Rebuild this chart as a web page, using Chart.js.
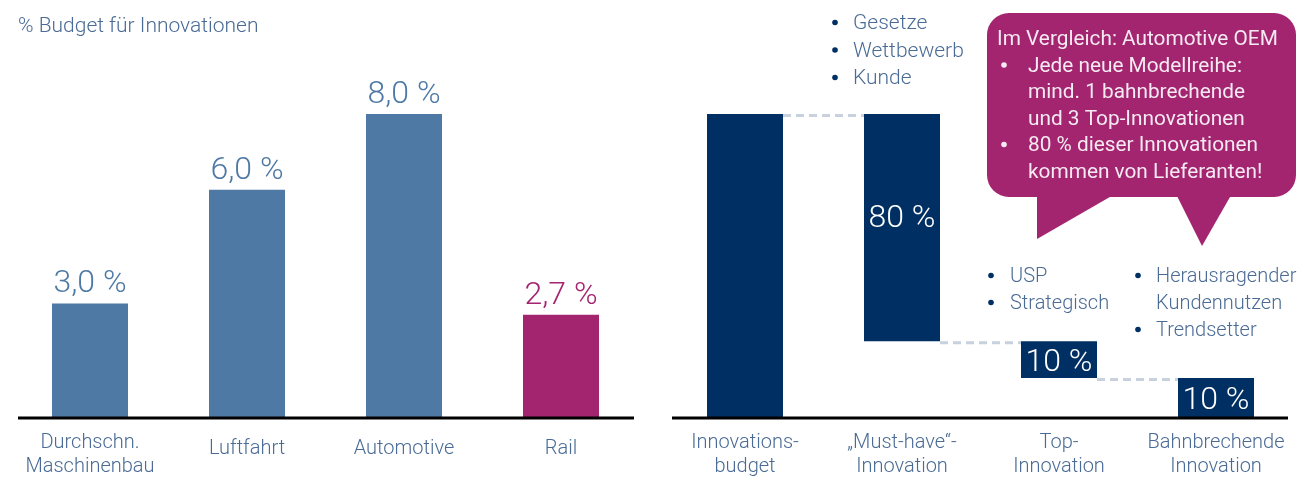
<!DOCTYPE html>
<html>
<head>
<meta charset="utf-8">
<script src="https://cdn.jsdelivr.net/npm/chart.js@4/dist/chart.umd.min.js"></script>
<style>
  html, body { margin: 0; padding: 0; background: #ffffff; }
  #wrap { position: relative; width: 1300px; height: 477px; overflow: hidden; }
  canvas { position: absolute; top: 0; }
  #c1 { left: 0; }
  #c2 { left: 650px; }
</style>
</head>
<body>
<div id="wrap">
  <canvas id="c1" width="650" height="477"></canvas>
  <canvas id="c2" width="650" height="477"></canvas>
</div>
<script>
// ---------- DATA ----------
const leftTitle = "% Budget für Innovationen";
const leftCategories = [["Durchschn.", "Maschinenbau"], ["Luftfahrt"], ["Automotive"], ["Rail"]];
const leftValues = [3.0, 6.0, 8.0, 2.7];
const leftValueLabels = ["3,0 %", "6,0 %", "8,0 %", "2,7 %"];

const rightCategories = [["Innovations-", "budget"], ["„Must-have“-", "Innovation"], ["Top-", "Innovation"], ["Bahnbrechende", "Innovation"]];
const rightStarts = [0, 25, 12.9, 0];
const rightEnds = [100, 100, 25, 12.9];
const rightValueLabels = ["", "80 %", "10 %", "10 %"];

const bulletsMustHave = ["Gesetze", "Wettbewerb", "Kunde"];
const bulletsTop = ["USP", "Strategisch"];
const bulletsBahn = [["Herausragender", "Kundennutzen"], ["Trendsetter"]];
const calloutTitle = "Im Vergleich: Automotive OEM";
const calloutBullets = [["Jede neue Modellreihe:", "mind. 1 bahnbrechende", "und 3 Top-Innovationen"], ["80 % dieser Innovationen", "kommen von Lieferanten!"]];

// ---------- STYLE ----------
const FONT = "Roboto, 'Liberation Sans', sans-serif";
const TEXT = "#4A6B95";
const STEEL = "#4E79A5";
const MAGENTA = "#A3246F";
const NAVY = "#002F63";
const DASH = "#C8D1DE";

function font(size, weight) { return (weight || 300) + " " + size + "px " + FONT; }

function drawAxisLine(ctx, x1, x2, y) {
  ctx.save();
  ctx.strokeStyle = "#000000";
  ctx.lineWidth = 3;
  ctx.beginPath();
  ctx.moveTo(x1, y);
  ctx.lineTo(x2, y);
  ctx.stroke();
  ctx.restore();
}

function drawCatLabels(ctx, chart, cats, color) {
  const xs = chart.scales.x;
  ctx.save();
  ctx.font = font(20);
  ctx.fillStyle = color;
  ctx.textAlign = "center";
  ctx.textBaseline = "alphabetic";
  cats.forEach((lines, i) => {
    const x = xs.getPixelForValue(i);
    if (lines.length === 1) {
      ctx.fillText(lines[0], x, 454);
    } else {
      ctx.fillText(lines[0], x, 448);
      ctx.fillText(lines[1], x, 472);
    }
  });
  ctx.restore();
}

// ---------- LEFT CHART ----------
const leftPlugin = {
  id: "leftDecor",
  afterDatasetsDraw(chart) {
    const ctx = chart.ctx;
    const meta = chart.getDatasetMeta(0);
    drawAxisLine(ctx, 18, 634, chart.chartArea.bottom + 1);
    ctx.save();
    ctx.font = font(32);
    ctx.textAlign = "center";
    ctx.textBaseline = "alphabetic";
    meta.data.forEach((bar, i) => {
      ctx.fillStyle = i === 3 ? MAGENTA : STEEL;
      ctx.fillText(leftValueLabels[i], bar.x, bar.y - 11);
    });
    ctx.font = font(21);
    ctx.fillStyle = TEXT;
    ctx.textAlign = "left";
    ctx.fillText(leftTitle, 18, 32);
    ctx.restore();
    drawCatLabels(ctx, chart, leftCategories, TEXT);
  }
};

new Chart(document.getElementById("c1"), {
  type: "bar",
  data: {
    labels: leftCategories.map(l => l.join(" ")),
    datasets: [{
      data: leftValues,
      backgroundColor: [STEEL, STEEL, STEEL, MAGENTA],
      borderWidth: 0,
      barPercentage: 76 / 157,
      categoryPercentage: 1
    }]
  },
  options: {
    responsive: false,
    animation: false,
    events: [],
    layout: { padding: { left: 11.5, right: 10.5, top: 114, bottom: 60 } },
    plugins: { legend: { display: false }, tooltip: { enabled: false } },
    scales: {
      x: { display: false },
      y: { display: false, min: 0, max: 8 }
    }
  },
  plugins: [leftPlugin]
});

// ---------- RIGHT CHART ----------
function roundRectPath(ctx, x, y, w, h, r) {
  ctx.moveTo(x + r, y);
  ctx.lineTo(x + w - r, y);
  ctx.arcTo(x + w, y, x + w, y + r, r);
  ctx.lineTo(x + w, y + h - r);
  ctx.arcTo(x + w, y + h, x + w - r, y + h, r);
  ctx.lineTo(x + r, y + h);
  ctx.arcTo(x, y + h, x, y + h - r, r);
  ctx.lineTo(x, y + r);
  ctx.arcTo(x, y, x + r, y, r);
  ctx.closePath();
}

function bulletList(ctx, items, bx, tx, y0, lh, textColor, bulletColor) {
  let y = y0;
  items.forEach(item => {
    const lines = Array.isArray(item) ? item : [item];
    ctx.fillStyle = bulletColor;
    ctx.beginPath();
    ctx.arc(bx, y - 6.5, 2.8, 0, Math.PI * 2);
    ctx.fill();
    ctx.fillStyle = textColor;
    lines.forEach(line => {
      ctx.fillText(line, tx, y);
      y += lh;
    });
  });
}

const rightPlugin = {
  id: "rightDecor",
  beforeDatasetsDraw(chart) {
    const ctx = chart.ctx;
    const meta = chart.getDatasetMeta(0);
    ctx.save();
    ctx.strokeStyle = DASH;
    ctx.lineWidth = 3;
    ctx.setLineDash([8, 5]);
    for (let i = 0; i < meta.data.length - 1; i++) {
      const a = meta.data[i], b = meta.data[i + 1];
      const yv = chart.scales.y.getPixelForValue(rightStarts[i + 1] === 0 ? rightEnds[i + 1] : (i === 0 ? rightEnds[i] : rightStarts[i]));
      ctx.beginPath();
      ctx.moveTo(a.x + a.width / 2, yv + 1.5);
      ctx.lineTo(b.x - b.width / 2, yv + 1.5);
      ctx.stroke();
    }
    ctx.restore();
  },
  afterDatasetsDraw(chart) {
    const ctx = chart.ctx;
    const meta = chart.getDatasetMeta(0);
    const off = 650;
    drawAxisLine(ctx, 672 - off, 1288 - off, chart.chartArea.bottom + 1);

    // value labels inside bars
    ctx.save();
    ctx.font = font(32);
    ctx.fillStyle = "#ffffff";
    ctx.textAlign = "center";
    ctx.textBaseline = "alphabetic";
    meta.data.forEach((bar, i) => {
      if (!rightValueLabels[i]) return;
      const cy = (bar.y + bar.base) / 2;
      const yy = i === 1 ? 227 : cy + 11.5;
      ctx.fillText(rightValueLabels[i], bar.x, yy);
    });
    ctx.restore();

    // bullet lists
    ctx.save();
    ctx.textAlign = "left";
    ctx.textBaseline = "alphabetic";
    ctx.font = font(21);
    bulletList(ctx, bulletsMustHave, 835 - off, 853 - off, 29, 27.5, TEXT, NAVY);
    ctx.font = font(20);
    bulletList(ctx, bulletsTop, 991 - off, 1010 - off, 282, 27, TEXT, NAVY);
    bulletList(ctx, bulletsBahn, 1138 - off, 1156 - off, 282, 27, TEXT, NAVY);
    ctx.restore();

    // callout bubble
    ctx.save();
    ctx.fillStyle = MAGENTA;
    ctx.beginPath();
    roundRectPath(ctx, 987 - off, 13, 1296 - 987, 197 - 13, 22);
    ctx.fill();
    ctx.beginPath();
    ctx.moveTo(1037 - off, 190);
    ctx.lineTo(1037 - off, 239);
    ctx.lineTo(1122 - off, 190);
    ctx.closePath();
    ctx.fill();
    ctx.beginPath();
    ctx.moveTo(1174 - off, 190);
    ctx.lineTo(1202 - off, 246);
    ctx.lineTo(1234 - off, 190);
    ctx.closePath();
    ctx.fill();

    ctx.font = font(20.8, 400);
    ctx.fillStyle = "#F6EAF2";
    ctx.textAlign = "left";
    ctx.fillText(calloutTitle, 997 - off, 45);
    let y = 45 + 26.5;
    calloutBullets.forEach(lines => {
      ctx.beginPath();
      ctx.arc(1004 - off, y - 6.5, 2.8, 0, Math.PI * 2);
      ctx.fill();
      lines.forEach(line => {
        ctx.fillText(line, 1028 - off, y);
        y += 26.5;
      });
    });
    ctx.restore();

    drawCatLabels(ctx, chart, rightCategories, TEXT);
  }
};

new Chart(document.getElementById("c2"), {
  type: "bar",
  data: {
    labels: rightCategories.map(l => l.join(" ")),
    datasets: [{
      data: rightStarts.map((s, i) => [s, rightEnds[i]]),
      backgroundColor: NAVY,
      borderWidth: 0,
      borderSkipped: false,
      barPercentage: 76 / 157,
      categoryPercentage: 1
    }]
  },
  options: {
    responsive: false,
    animation: false,
    events: [],
    layout: { padding: { left: 16.5, right: 5.5, top: 114, bottom: 60 } },
    plugins: { legend: { display: false }, tooltip: { enabled: false } },
    scales: {
      x: { display: false },
      y: { display: false, min: 0, max: 100 }
    }
  },
  plugins: [rightPlugin]
});
</script>
</body>
</html>
